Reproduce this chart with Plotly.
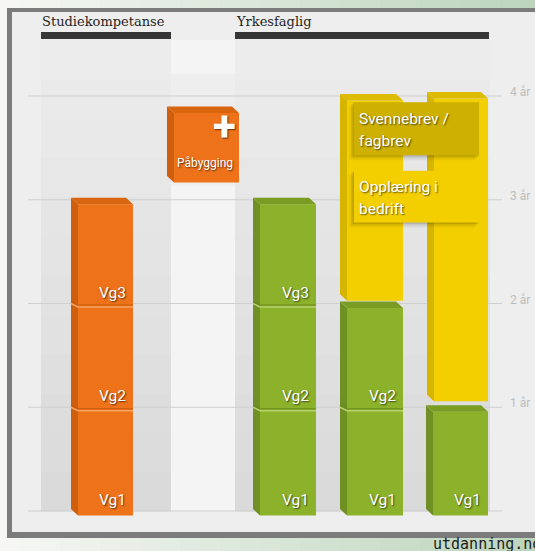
import plotly.graph_objects as go

# ---------------- data (years) ----------------
group_titles = ["Studiekompetanse", "Yrkesfaglig"]
school_years = [3, 3, 2, 1]                      # study path (orange), vocational paths 1-3 (green)
school_labels = [["Vg1", "Vg2", "Vg3"],
                 ["Vg1", "Vg2", "Vg3"],
                 ["Vg1", "Vg2"],
                 ["Vg1"]]
apprentice_start = [2.07, 1.10]                  # training in company (yellow)
apprentice_end = [4.0, 4.02]
pabygging_start = 3.21
pabygging_end = 3.88
pabygging_label = "Påbygging"
svennebrev_span = [3.43, 3.94]
svennebrev_lines = ["Svennebrev /", "fagbrev"]
opplaering_span = [2.78, 3.28]
opplaering_lines = ["Opplæring i", "bedrift"]
year_ticks = [0, 1, 2, 3, 4]
year_tick_text = ["", "1 år", "2 år", "3 år", "4 år"]
source_text = "utdanning.no"

# ---------------- layout / style ----------------
W, H = 535, 551
Y0_PX = 511.0
PX_PER_YEAR = 103.75
U = 1.0 / PX_PER_YEAR


def yp(p):
    """pixel row -> axis value (for decorations)"""
    return (Y0_PX - p) / PX_PER_YEAR


ORANGE = dict(front="#ee7219", side="#cf5f0c", top="#d9660f", notch="#f7a463", dark="#c65a0c")
GREEN = dict(front="#8cb12a", side="#6f9022", top="#799c22", notch="#b7d16f", dark="#6a8a1f")
YELLOW = dict(front="#f3cf00", side="#d6b500", top="#dcbb00")

school_x = [(71, 133), (253, 316), (340, 403), (426, 488)]
school_style = [ORANGE, GREEN, GREEN, GREEN]
apprentice_x = [(340, 403), (427, 488)]
pabygging_x = (167, 239)
label_box_x = (354, 479)

DX = 7.0          # depth offset in px
UP = 2.0          # back face shift up (px)
DOWN = 4.5        # front face shift down (px)

polys = {}


def add_poly(color, pts):
    xs, ys = polys.setdefault(color, ([], []))
    for (x, y) in pts:
        xs.append(x)
        ys.append(y)
    xs.extend([pts[0][0], None])
    ys.extend([pts[0][1], None])


def box3d(x0, x1, v0, v1, st):
    b0, b1 = v0 + UP * U, v1 + UP * U
    f0, f1 = v0 - DOWN * U, v1 - DOWN * U
    add_poly(st["front"], [(x0 + DX, f0), (x1, f0), (x1, f1), (x0 + DX, f1)])
    add_poly(st["side"], [(x0, b0), (x0 + DX, f0), (x0 + DX, f1), (x0, b1)])
    add_poly(st["top"], [(x0, b1), (x1 - DX, b1), (x1, f1), (x0 + DX, f1)])


fig = go.Figure()
annotations = []
shapes = []

# ---- background gradient ----
c0 = (246, 247, 244)
c1 = (188, 213, 188)
n = 27
for i in range(n):
    t = i / (n - 1)
    col = "rgb(%d,%d,%d)" % tuple(round(c0[k] + (c1[k] - c0[k]) * t) for k in range(3))
    shapes.append(dict(type="rect", xref="x", yref="y", layer="below",
                       x0=i * 20, x1=(i + 1) * 20 + 1, y0=yp(0), y1=yp(H),
                       fillcolor=col, line=dict(width=0)))
# frame + panel
shapes.append(dict(type="rect", xref="x", yref="y", layer="below", x0=7, x1=600,
                   y0=yp(8), y1=yp(538), fillcolor="#7b7b7b", line=dict(width=0)))
shapes.append(dict(type="rect", xref="x", yref="y", layer="below", x0=12, x1=600,
                   y0=yp(12), y1=yp(532), fillcolor="#eeeeee", line=dict(width=0)))

# column bands (vertical gradient)
bands = [(41, 171), (235, 490)]
m = 12
top_px, bot_px = 40, Y0_PX
g0, g1 = 236, 218
for (bx0, bx1) in bands:
    for j in range(m):
        t = j / (m - 1)
        g = round(g0 + (g1 - g0) * t)
        py0 = top_px + (bot_px - top_px) * j / m
        py1 = top_px + (bot_px - top_px) * (j + 1) / m
        shapes.append(dict(type="rect", xref="x", yref="y", layer="below",
                           x0=bx0, x1=bx1, y0=yp(py0), y1=yp(py1 + 0.5),
                           fillcolor="rgb(%d,%d,%d)" % (g, g, g), line=dict(width=0)))
# lighter gap column
for (py0, py1) in [(40, 74), (186, Y0_PX)]:
    shapes.append(dict(type="rect", xref="x", yref="y", layer="below",
                       x0=171, x1=235, y0=yp(py0), y1=yp(py1),
                       fillcolor="#f4f4f4", line=dict(width=0)))

# header bars
for (bx0, bx1) in [(41, 171), (235, 489)]:
    shapes.append(dict(type="rect", xref="x", yref="y", layer="below",
                       x0=bx0, x1=bx1, y0=yp(32), y1=yp(39),
                       fillcolor="#363636", line=dict(width=0)))

# gridlines
for v in year_ticks:
    shapes.append(dict(type="line", xref="x", yref="y", layer="below",
                       x0=28, x1=502, y0=v, y1=v,
                       line=dict(color="#cfcfcf", width=1)))

# ---- bars ----
for (x0, x1), yrs, st in zip(school_x, school_years, school_style):
    box3d(x0, x1, 0, yrs, st)
box3d(pabygging_x[0], pabygging_x[1], pabygging_start, pabygging_end, ORANGE)
for (x0, x1), a, b in zip(apprentice_x, apprentice_start, apprentice_end):
    box3d(x0, x1, a, b, YELLOW)

for color, (xs, ys) in polys.items():
    fig.add_trace(go.Scatter(x=xs, y=ys, mode="lines", fill="toself", fillcolor=color,
                             line=dict(width=0, color=color), hoverinfo="skip",
                             showlegend=False))

# notches between school years
for (x0, x1), yrs, st in zip(school_x, school_years, school_style):
    for k in range(1, yrs):
        vd = k - 1.5 * U
        vl = k - 3.5 * U
        fig.add_trace(go.Scatter(x=[x0, x0 + DX, x1], y=[k + UP * U, vd, vd], mode="lines",
                                 line=dict(color=st["dark"], width=1.2),
                                 hoverinfo="skip", showlegend=False))
        fig.add_trace(go.Scatter(x=[x0, x0 + DX, x1], y=[k + UP * U - 2 * U, vl, vl], mode="lines",
                                 line=dict(color=st["notch"], width=1.5),
                                 hoverinfo="skip", showlegend=False))

SHADOW = "1px 1px 1.5px rgba(0,0,0,0.6)"
label_font = dict(family="Roboto, Noto Sans, sans-serif", size=15.5, color="white",
                  shadow=SHADOW)

for (x0, x1), labels in zip(school_x, school_labels):
    for k, lab in enumerate(labels):
        annotations.append(dict(x=x1 - 5, y=k + 11 * U, xref="x", yref="y", text=lab,
                                showarrow=False, xanchor="right", yanchor="middle",
                                font=label_font))

# Påbygging label
annotations.append(dict(x=(pabygging_x[0] + DX + pabygging_x[1]) / 2 - 2, y=pabygging_start + 15 * U,
                        xref="x", yref="y", text=pabygging_label, showarrow=False,
                        xanchor="center", yanchor="middle",
                        font=dict(family="Roboto, sans-serif", size=12, color="white",
                                  shadow=SHADOW)))
annotations.append(dict(x=pabygging_x[1] - 1, y=pabygging_end - 18 * U,
                        xref="x", yref="y", text="<b>+</b>", showarrow=False,
                        xanchor="right", yanchor="middle",
                        font=dict(family="Roboto, sans-serif", size=42, color="white", shadow=SHADOW)))

# label boxes (above bars)
for span, fill in [(svennebrev_span, "#ceb000"), (opplaering_span, "#f3cf00")]:
    for off, alpha in [(5, 0.05), (3, 0.08), (1.5, 0.10)]:
        shapes.append(dict(type="rect", xref="x", yref="y", layer="above",
                           x0=label_box_x[0] - off, x1=label_box_x[1] - off + 1,
                           y0=span[0] - off * U, y1=span[1] - off * U + U,
                           fillcolor="rgba(0,0,0,%g)" % alpha, line=dict(width=0)))
    shapes.append(dict(type="rect", xref="x", yref="y", layer="above",
                       x0=label_box_x[0], x1=label_box_x[1], y0=span[0], y1=span[1],
                       fillcolor=fill, line=dict(width=0)))

box_font = dict(family="Roboto, Noto Sans, sans-serif", size=15.5, color="white",
                shadow=SHADOW)
for span, lines in [(svennebrev_span, svennebrev_lines), (opplaering_span, opplaering_lines)]:
    for i, txt in enumerate(lines):
        annotations.append(dict(x=label_box_x[0] + 3, y=span[1] - (16.5 + 22 * i) * U,
                                xref="x", yref="y", text=txt, showarrow=False,
                                xanchor="left", yanchor="middle", align="left", font=box_font))

# header titles
for x, t in zip([40, 234], group_titles):
    annotations.append(dict(x=x, y=yp(21.5), xref="x", yref="y", text=t, showarrow=False,
                            xanchor="left", yanchor="middle",
                            font=dict(family="DejaVu Serif, serif", size=13, color="#1e1e1e")))

# tick labels on the right
for v, t in zip(year_ticks, year_tick_text):
    if t:
        annotations.append(dict(x=508, y=v + 4 * U, xref="x", yref="y", text=t, showarrow=False,
                                xanchor="left", yanchor="middle",
                                font=dict(family="Roboto, sans-serif", size=12, color="#bdbdbd")))

# source
annotations.append(dict(x=431, y=yp(544), xref="x", yref="y", text=source_text, showarrow=False,
                        xanchor="left", yanchor="middle",
                        font=dict(family="DejaVu Sans Mono, monospace", size=15, color="#1c1c1c")))

fig.update_layout(
    width=W, height=H,
    margin=dict(l=0, r=0, t=0, b=0),
    paper_bgcolor="#f5f6f4", plot_bgcolor="rgba(0,0,0,0)",
    xaxis=dict(range=[0, W], visible=False, fixedrange=True),
    yaxis=dict(range=[yp(H), yp(0)], visible=False, fixedrange=True),
    shapes=shapes, annotations=annotations, showlegend=False,
)

fig.write_html("out.html", config={"displayModeBar": False},
               post_script="document.body.style.margin='0';document.body.style.overflow='hidden';")
